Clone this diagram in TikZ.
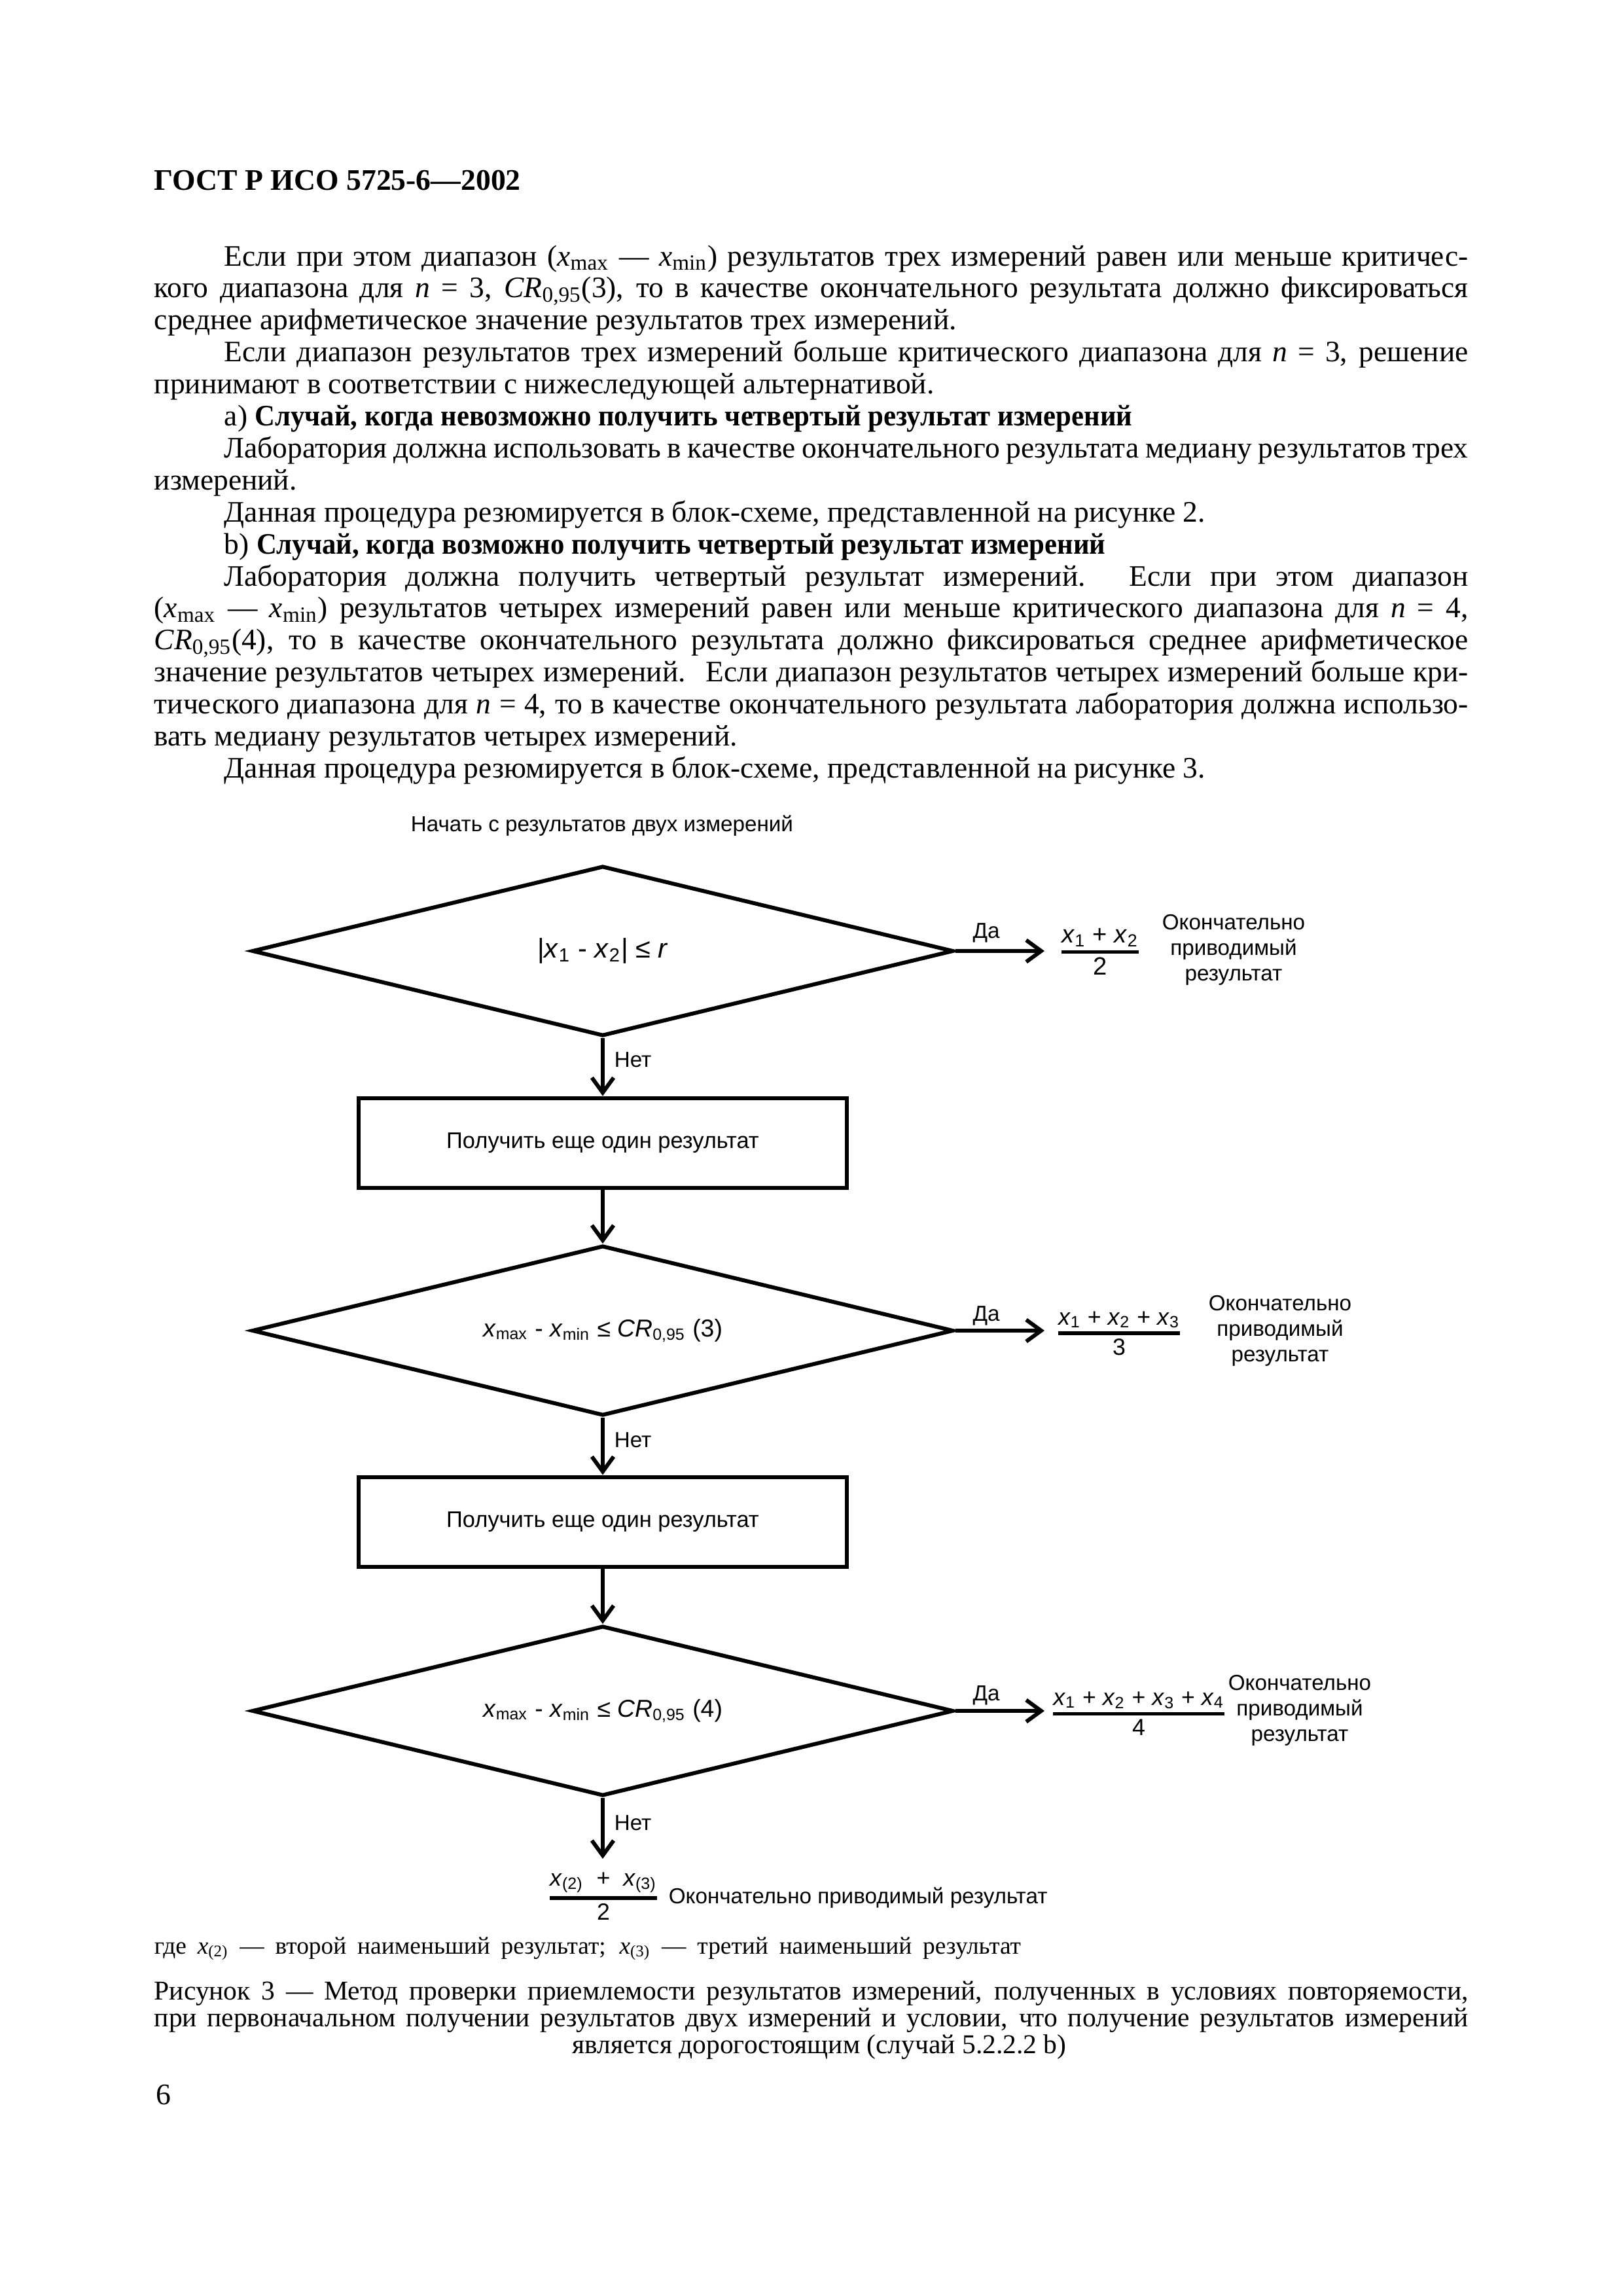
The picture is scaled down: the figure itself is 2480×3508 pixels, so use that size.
\documentclass[tikz,border=0pt]{standalone}
\usepackage{fontspec}
\usepackage{amsmath}
\usepackage{graphicx}
\setmainfont{Liberation Serif}
\newfontfamily\diagfont{Liberation Sans}
\usetikzlibrary{shapes.geometric,arrows.meta}
\newlength\pind
\setlength\pind{25.8pt}
\newlength\bodyw
\setlength\bodyw{483.7pt}
\newcommand\xs[1]{\textit{x}\textsubscript{#1}}
\newcommand\hb[1]{\scalebox{0.94}[1]{\textbf{#1}}}
\newcommand\dfont{\diagfont\fontsize{8}{9.4}\selectfont}
\newcommand\qfont{\diagfont\fontsize{9}{10}\selectfont}
\newcommand\ffont{\diagfont\fontsize{8.6}{10}\selectfont}
\newcommand\frc[2]{$\genfrac{}{}{1.3pt}{1}{\hbox{#1}}{\hbox{#2}}$}
\begin{document}
\begin{tikzpicture}[x=0.2409pt,y=-0.2409pt,
  dia/.style={diamond, draw, line width=1.45pt, minimum width=258.2pt, minimum height=62.6pt, inner sep=0pt, aspect=4, font=\qfont},
  procbox/.style={rectangle, draw, line width=1.45pt, minimum width=179.7pt, minimum height=33pt, inner sep=0pt, font=\diagfont\fontsize{8.3}{10}\selectfont},
  flow/.style={line width=1.45pt, -{Straight Barb[length=5.5pt,width=8pt]}},
  lbl/.style={inner sep=0pt, font=\dfont},
  frac/.style={inner sep=0pt, font=\ffont},
  res/.style={inner sep=0pt, align=center, font=\dfont},
  body/.style={inner sep=0pt, anchor=base west},
  tline/.style={inner sep=0pt, anchor=base west, font=\fontsize{10.95}{11.78}\selectfont}]
\fill[white] (0,0) rectangle (2480,3508);
\useasboundingbox (0,0) rectangle (2480,3508);

% header
\node[body, font=\fontsize{11}{13}\selectfont\bfseries] (hdr) at (235,290) {ГОСТ Р ИСО 5725-6—2002};

% body text, one node per printed line
\node[tline] (l1) at (342,406) {\makebox[\dimexpr\bodyw-\pind\relax][s]{Если при этом диапазон (\xs{max} — \xs{min}) результатов трех измерений равен или меньше критичес-}};
\node[tline] (l2) at (235,454.9) {\makebox[\bodyw][s]{кого диапазона для \textit{n} = 3, \textit{CR}\textsubscript{0,95}(3), то в качестве окончательного результата должно фиксироваться}};
\node[tline] (l3) at (235,503.8) {среднее арифметическое значение результатов трех измерений.};
\node[tline] (l4) at (342,552.7) {\makebox[\dimexpr\bodyw-\pind\relax][s]{Если диапазон результатов трех измерений больше критического диапазона для \textit{n} = 3, решение}};
\node[tline] (l5) at (235,601.6) {принимают в соответствии с нижеследующей альтернативой.};
\node[tline] (l6) at (342,650.5) {а) \hb{Случай, когда невозможно получить четвертый результат измерений}};
\node[tline] (l7) at (342,699.4) {\makebox[\dimexpr\bodyw-\pind\relax][s]{Лаборатория должна использовать в качестве окончательного результата медиану результатов трех}};
\node[tline] (l8) at (235,748.3) {измерений.};
\node[tline] (l9) at (342,797.2) {Данная процедура резюмируется в блок-схеме, представленной на рисунке 2.};
\node[tline] (l10) at (342,846.1) {b) \hb{Случай, когда возможно получить четвертый результат измерений}};
\node[tline] (l11) at (342,895) {\makebox[\dimexpr\bodyw-\pind\relax][s]{Лаборатория должна получить четвертый результат измерений. Если при этом диапазон}};
\node[tline] (l12) at (235,943.9) {\makebox[\bodyw][s]{(\xs{max} — \xs{min}) результатов четырех измерений равен или меньше критического диапазона для \textit{n} = 4,}};
\node[tline] (l13) at (235,992.8) {\makebox[\bodyw][s]{\textit{CR}\textsubscript{0,95}(4), то в качестве окончательного результата должно фиксироваться среднее арифметическое}};
\node[tline] (l14) at (235,1041.7) {\makebox[\bodyw][s]{значение результатов четырех измерений. \ Если диапазон результатов четырех измерений больше кри-}};
\node[tline] (l15) at (235,1090.6) {\makebox[\bodyw][s]{тического диапазона для \textit{n} = 4, то в качестве окончательного результата лаборатория должна использо-}};
\node[tline] (l16) at (235,1139.5) {вать медиану результатов четырех измерений.};
\node[tline] (l17) at (342,1188.4) {Данная процедура резюмируется в блок-схеме, представленной на рисунке 3.};

% flowchart
\node[lbl] (start) at (920,1262) {Начать с результатов двух измерений};
\node[dia, font=\diagfont\fontsize{10}{11}\selectfont] (d1) at (921,1453) {|\xs{1} - \xs{2}| ≤ \textit{r}};
\node[procbox] (r1) at (921,1746) {Получить еще один результат};
\node[dia] (d2) at (921,2033) {\xs{max} - \xs{min} ≤ \textit{CR}\textsubscript{0,95} (3)};
\node[procbox] (r2) at (921,2325) {Получить еще один результат};
\node[dia] (d3) at (921,2614) {\xs{max} - \xs{min} ≤ \textit{CR}\textsubscript{0,95} (4)};

\coordinate (y1) at (1596,1453);
\coordinate (y2) at (1596,2033);
\coordinate (y3) at (1596,2614);
\coordinate (fin) at (921,2840);

\draw[flow] (d1.south) -- (r1.north);
\draw[flow] (r1.south) -- (d2.north);
\draw[flow] (d2.south) -- (r2.north);
\draw[flow] (r2.south) -- (d3.north);
\draw[flow] (d3.south) -- (fin);
\draw[flow] (d1.east) -- (y1);
\draw[flow] (d2.east) -- (y2);
\draw[flow] (d3.east) -- (y3);

\node[lbl, anchor=west] (no1) at (938,1619) {Нет};
\node[lbl, anchor=west] (no2) at (938,2200) {Нет};
\node[lbl, anchor=west] (no3) at (938,2785) {Нет};
\node[lbl] (yes1) at (1507,1425) {Да};
\node[lbl] (yes2) at (1507,2010) {Да};
\node[lbl] (yes3) at (1507,2590) {Да};

\node[frac, font=\diagfont\fontsize{9.2}{10}\selectfont] (f1) at (1681,1454) {\frc{\xs{1} + \xs{2}}{2}};
\node[res] (o1) at (1885,1451) {Окончательно\\приводимый\\результат};
\node[frac] (f2) at (1710,2037) {\frc{\xs{1} + \xs{2} + \xs{3}}{3}};
\node[res] (o2) at (1956,2033) {Окончательно\\приводимый\\результат};
\node[frac] (f3) at (1740,2618) {\frc{\xs{1} + \xs{2} + \xs{3} + \xs{4}}{4}};
\node[res] (o3) at (1986,2613) {Окончательно\\приводимый\\результат};
\node[frac] (f4) at (922,2897) {\frc{\xs{(2)} \ + \ \xs{(3)}}{2}};
\node[lbl, anchor=west] (o4) at (1021,2900) {Окончательно приводимый результат};

% captions
\node[body, font=\fontsize{9}{10}\selectfont] (note) at (235,2985) {\makebox[319pt][s]{где \xs{(2)} — второй наименьший результат; \xs{(3)} — третий наименьший результат}};
\node[body, font=\fontsize{10}{10}\selectfont] (cap1) at (235,3055) {\makebox[483.7pt][s]{Рисунок 3 — Метод проверки приемлемости результатов измерений, полученных в условиях повторяемости,}};
\node[body, font=\fontsize{10}{10}\selectfont] (cap2) at (235,3096) {\makebox[483.7pt][s]{при первоначальном получении результатов двух измерений и условии, что получение результатов измерений}};
\node[inner sep=0pt, anchor=base, font=\fontsize{10}{10}\selectfont] (cap3) at (1252,3137) {является дорогостоящим (случай 5.2.2.2 b)};
\node[body, font=\fontsize{11}{13}\selectfont] (pg) at (238,3215) {6};
\end{tikzpicture}
\end{document}
